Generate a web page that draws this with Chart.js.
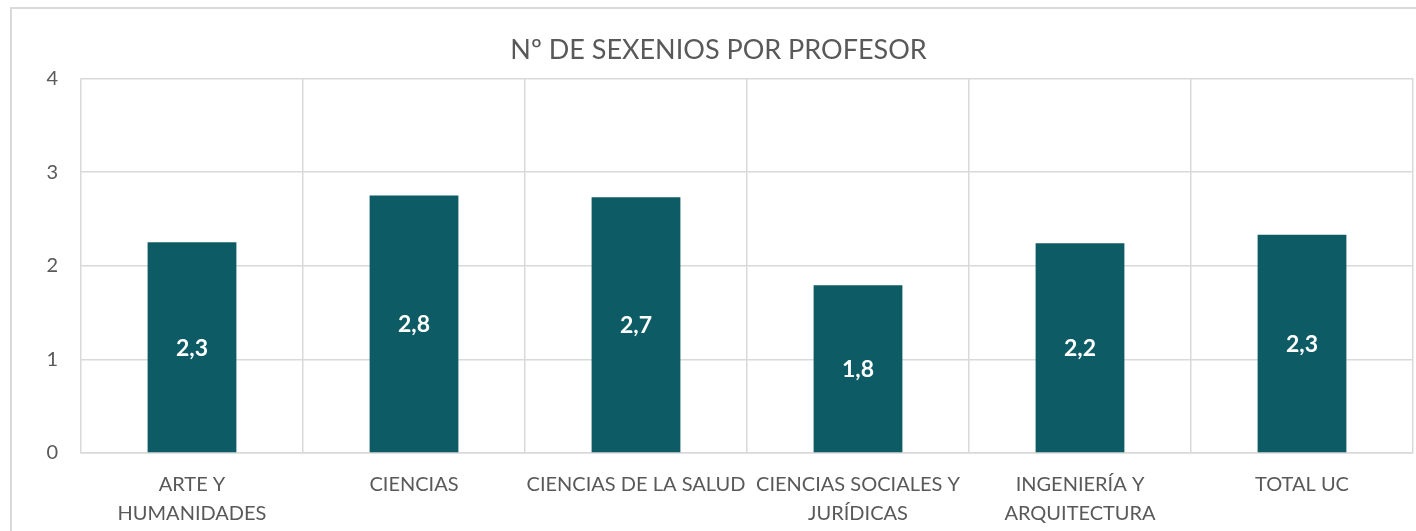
<!DOCTYPE html>
<html>
<head>
<meta charset="utf-8">
<script src="https://cdn.jsdelivr.net/npm/chart.js@4/dist/chart.umd.min.js"></script>
<style>
  html, body { margin: 0; padding: 0; background: #fff; }
  #wrap { position: relative; width: 1416px; height: 531px; overflow: hidden; }
  #frame { position: absolute; left: 10px; top: 7px; width: 1500px; height: 600px; border: 2px solid #d9d9d9; box-sizing: border-box; }
  #myChart { position: absolute; left: 0; top: 0; }
</style>
</head>
<body>
<div id="wrap">
  <div id="frame"></div>
  <canvas id="myChart" width="1416" height="531"></canvas>
</div>
<script>
const categories = [
  ['ARTE Y', 'HUMANIDADES'],
  'CIENCIAS',
  'CIENCIAS DE LA SALUD',
  ['CIENCIAS SOCIALES Y', 'JURÍDICAS'],
  ['INGENIERÍA Y', 'ARQUITECTURA'],
  'TOTAL UC'
];
const sexenios = [2.25, 2.75, 2.73, 1.79, 2.24, 2.33];
const yTicks = [0, 1, 2, 3, 4];

const FONT = 'Lato, "Open Sans", sans-serif';
const TEXT = '#595959';
const GRID = '#d9d9d9';

// etiquetas blancas dentro de cada barra
const barLabels = {
  id: 'barLabels',
  afterDatasetsDraw(chart) {
    const ctx = chart.ctx;
    const meta = chart.getDatasetMeta(0);
    ctx.save();
    ctx.fillStyle = '#ffffff';
    ctx.font = 'bold 23px ' + FONT;
    ctx.textAlign = 'center';
    ctx.textBaseline = 'middle';
    meta.data.forEach((bar, i) => {
      const v = chart.data.datasets[0].data[i];
      const txt = v.toFixed(1).replace('.', ',');
      ctx.fillText(txt, bar.x, (bar.y + bar.base) / 2 + 1);
    });
    ctx.restore();
  }
};

const chart = new Chart(document.getElementById('myChart').getContext('2d'), {
  type: 'bar',
  data: {
    labels: categories,
    datasets: [{
      label: 'Nº de sexenios',
      data: sexenios,
      backgroundColor: '#0d5c65',
      categoryPercentage: 1,
      barPercentage: 0.4
    }]
  },
  options: {
    responsive: false,
    animation: false,
    layout: { padding: { top: 0, left: 24, right: 3, bottom: 0 } },
    plugins: {
      legend: { display: false },
      tooltip: { enabled: false },
      title: {
        display: true,
        text: 'Nº DE SEXENIOS POR PROFESOR',
        color: TEXT,
        font: { family: FONT, size: 27, weight: 'normal' },
        padding: { top: 34, bottom: 12 }
      }
    },
    scales: {
      x: {
        grid: { color: GRID, lineWidth: 1.5, drawTicks: false, offset: true },
        border: { color: GRID, width: 1.5 },
        ticks: {
          color: TEXT,
          font: { family: FONT, size: 20, lineHeight: 1.45 },
          padding: 17,
          maxRotation: 0,
          autoSkip: false
        },
        afterFit(scale) { scale.height = 78; }
      },
      y: {
        min: 0,
        max: 4,
        afterBuildTicks(scale) { scale.ticks = yTicks.map(v => ({ value: v })); },
        grid: { color: GRID, lineWidth: 1.5, drawTicks: false },
        border: { display: false },
        ticks: {
          color: TEXT,
          font: { family: FONT, size: 20 },
          padding: 23
        },
        afterFit(scale) { scale.width = 57; }
      }
    }
  },
  plugins: [barLabels]
});
</script>
</body>
</html>
